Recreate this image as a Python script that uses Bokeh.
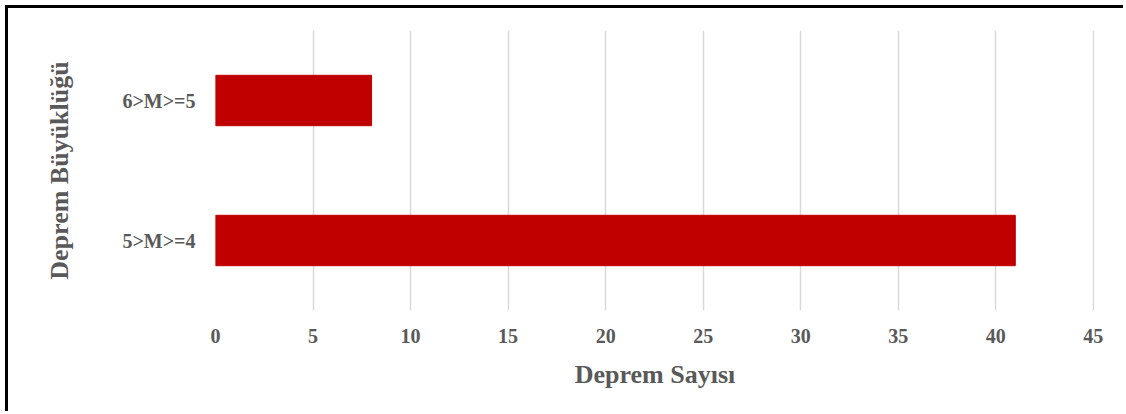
from bokeh.plotting import figure
from bokeh.models import FactorRange, Range1d, FixedTicker, InlineStyleSheet
from bokeh.embed import file_html
from bokeh.resources import INLINE

categories = ["5>M>=4", "6>M>=5"]
counts = [41, 8]
x_ticks = [0, 5, 10, 15, 20, 25, 30, 35, 40, 45]

FONT = "Liberation Serif"
GREY = "#595959"

frame_css = InlineStyleSheet(css=":host { border-top: 3px solid black; border-left: 3px solid black; margin-left: 5px; margin-top: 5px; }")

p = figure(
    width=1118, height=406,
    y_range=FactorRange(*categories),
    x_range=Range1d(0, 45.06),
    output_backend="svg", toolbar_location=None,
    min_border_left=207, min_border_right=32,
    min_border_top=22, min_border_bottom=104,
    stylesheets=[frame_css],
)

p.hbar(y=categories, right=counts, left=0, height=0.36, color="#C00000")

p.outline_line_color = None
p.ygrid.grid_line_color = None
p.xgrid.grid_line_color = "#D9D9D9"
p.xgrid.grid_line_width = 1.5
p.xaxis.ticker = FixedTicker(ticks=x_ticks)

for ax in (p.xaxis[0], p.yaxis[0]):
    ax.axis_line_color = None
    ax.major_tick_line_color = None
    ax.minor_tick_line_color = None
    ax.major_label_text_font = FONT
    ax.major_label_text_font_style = "bold"
    ax.major_label_text_color = GREY
    ax.major_label_text_font_size = "20px"
    ax.axis_label_text_font = FONT
    ax.axis_label_text_font_style = "bold"
    ax.axis_label_text_color = GREY
    ax.axis_label_text_font_size = "26px"

p.xaxis.axis_label = "Deprem Sayısı"
p.yaxis.axis_label = "Deprem Büyüklüğü"
p.xaxis.major_label_standoff = 12
p.yaxis.major_label_standoff = 14
p.xaxis.axis_label_standoff = 14
p.yaxis.axis_label_standoff = 45

open("out.html", "w").write(file_html(p, INLINE))
